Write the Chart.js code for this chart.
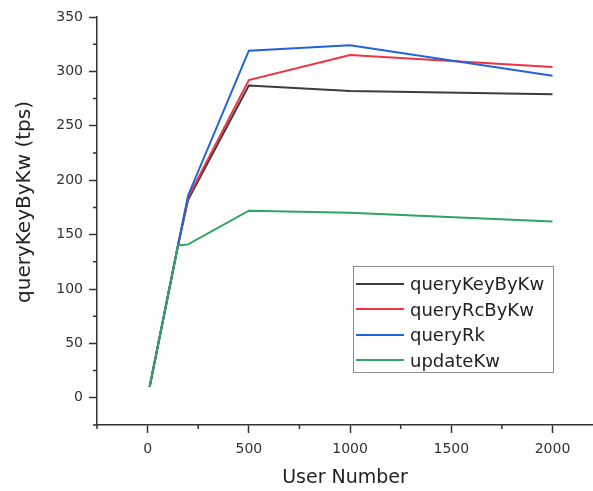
<!DOCTYPE html>
<html>
<head>
<meta charset="utf-8">
<script src="https://cdn.jsdelivr.net/npm/chart.js@4"></script>
<style>
  body { margin: 0; background: #fff; }
  #wrap { position: relative; width: 593px; height: 491px; overflow: hidden; }
  #legend {
    position: absolute; left: 353px; top: 266px; width: 201px; height: 107px;
    border: 1px solid #8c8c8c; box-sizing: border-box; padding-top: 4px;
    font-family: "DejaVu Sans", sans-serif; font-size: 18px; color: #222;
  }
  .row { display: flex; align-items: center; height: 25.5px; }
  .swatch { width: 48px; height: 2px; margin-left: 2px; margin-right: 6px; }
  #ytitle {
    position: absolute; left: -127px; top: 190px; width: 300px; height: 24px;
    line-height: 24px; text-align: center; transform: rotate(-90deg);
    font-family: "DejaVu Sans", sans-serif; font-size: 20px; color: #222;
  }
</style>
</head>
<body>
<div id="wrap">
  <canvas id="chart" width="593" height="491"></canvas>
  <div id="ytitle">queryKeyByKw (tps)</div>
  <div id="legend"></div>
</div>
<script>
const userNumber = [10, 150, 200, 500, 1000, 2000];
const queryKeyByKw = [10, 140, 182, 287, 282, 279];
const queryRcByKw = [10, 140, 184, 292, 315, 304];
const queryRk = [10, 140, 186, 319, 324, 296];
const updateKw = [10, 140, 141, 172, 170, 162];

const seriesNames = ['queryKeyByKw', 'queryRcByKw', 'queryRk', 'updateKw'];
const seriesValues = [queryKeyByKw, queryRcByKw, queryRk, updateKw];
const seriesColors = ['#3c3c3c', '#ee3440', '#2163d9', '#2ea463'];

const xTicks = [0, 500, 1000, 1500, 2000];
const yTicks = [0, 50, 100, 150, 200, 250, 300, 350];
const xMinorTicks = [-250, 250, 750, 1250, 1750];
const yMinorTicks = [-25, 25, 75, 125, 175, 225, 275, 325];

const FONT = '"DejaVu Sans", sans-serif';
const AXIS = '#333';

// short minor ticks on both axes, placed by the chart's own scales
const minorTicks = {
  id: 'minorTicks',
  afterDraw(chart) {
    const { ctx, chartArea, scales } = chart;
    ctx.save();
    ctx.strokeStyle = AXIS;
    ctx.lineWidth = 1.5;
    ctx.beginPath();
    xMinorTicks.forEach(v => {
      const x = scales.x.getPixelForValue(v);
      ctx.moveTo(x, chartArea.bottom);
      ctx.lineTo(x, chartArea.bottom + 4);
    });
    yMinorTicks.forEach(v => {
      const y = scales.y.getPixelForValue(v);
      ctx.moveTo(chartArea.left, y);
      ctx.lineTo(chartArea.left - 4, y);
    });
    ctx.stroke();
    ctx.restore();
  }
};

const datasets = seriesNames.map((name, i) => ({
  label: name,
  data: userNumber.map((x, j) => ({ x, y: seriesValues[i][j] })),
  borderColor: seriesColors[i],
  borderWidth: 2,
  pointRadius: 0,
  tension: 0,
  fill: false,
  order: seriesNames.length - i
}));

new Chart(document.getElementById('chart').getContext('2d'), {
  type: 'line',
  data: { datasets },
  options: {
    responsive: false,
    animation: false,
    layout: { padding: { top: 17, left: 0, right: 0, bottom: 0 } },
    scales: {
      x: {
        type: 'linear',
        min: -250,
        max: 2200,
        afterBuildTicks: s => { s.ticks = xTicks.map(value => ({ value })); },
        afterFit: s => { s.height = 66; },
        border: { color: AXIS, width: 1.5 },
        grid: { drawOnChartArea: false, color: AXIS, tickLength: 8, tickWidth: 1.5 },
        ticks: {
          autoSkip: false, maxRotation: 0, padding: 8,
          color: '#333', font: { family: FONT, size: 14 },
          callback: v => String(v)
        },
        title: {
          display: true, text: 'User Number', color: '#222',
          font: { family: FONT, size: 19 }, padding: { top: 0, bottom: 2 }
        }
      },
      y: {
        min: -25,
        max: 350,
        afterBuildTicks: s => { s.ticks = yTicks.map(value => ({ value })); },
        afterFit: s => { s.width = 97; },
        border: { color: AXIS, width: 1.5 },
        grid: { drawOnChartArea: false, color: AXIS, tickLength: 8, tickWidth: 1.5 },
        ticks: {
          autoSkip: false, padding: 6,
          color: '#333', font: { family: FONT, size: 14 },
          callback: v => String(v)
        }
      }
    },
    plugins: {
      legend: { display: false },
      tooltip: { enabled: false }
    }
  },
  plugins: [minorTicks]
});

document.getElementById('legend').innerHTML = seriesNames.map((name, i) =>
  `<div class="row"><span class="swatch" style="background:${seriesColors[i]}"></span>${name}</div>`
).join('');
</script>
</body>
</html>
